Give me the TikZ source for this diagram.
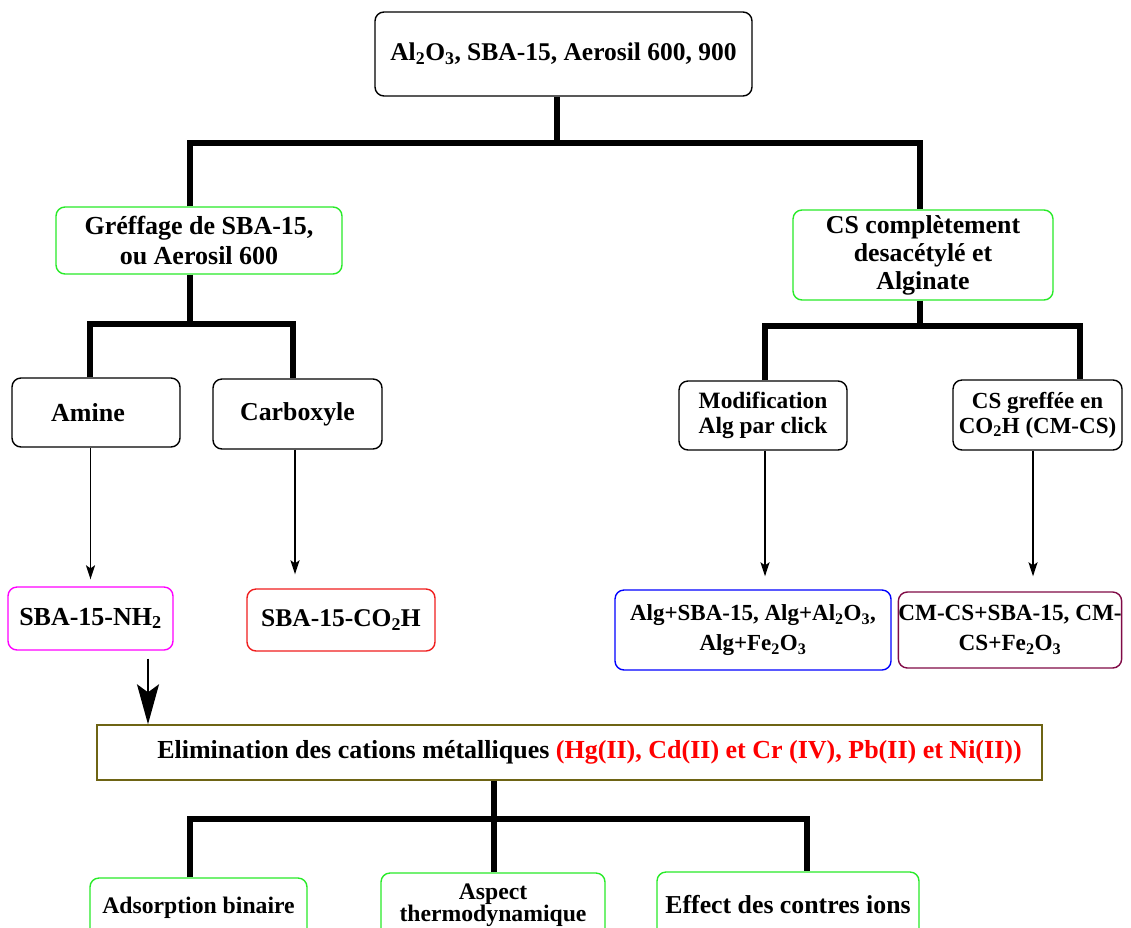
\documentclass[tikz,border=0pt]{standalone}
\usepackage{fontspec}
\setmainfont{Liberation Serif}
\usetikzlibrary{arrows.meta}
\definecolor{boxgreen}{RGB}{40,235,40}
\definecolor{boxmag}{RGB}{255,0,255}
\definecolor{boxred}{RGB}{240,30,30}
\definecolor{boxblue}{RGB}{0,0,255}
\definecolor{boxpurple}{RGB}{128,10,70}
\definecolor{boxolive}{RGB}{110,100,20}
\definecolor{txtred}{RGB}{255,0,0}
\begin{document}
\begin{tikzpicture}[x=1pt,y=-1pt,
  box/.style={draw=black,line width=1.4pt,rounded corners=9pt,align=center,inner sep=0pt,font=\bfseries},
  bus/.style={line width=6pt,line join=miter},
  thinarrow/.style={line width=1.6pt,-{Stealth[length=14pt,width=9pt,inset=3pt]}},
  bigarrow/.style={line width=2pt,-{Stealth[length=40pt,width=22pt,inset=8pt]}}]
\clip (0,0) rectangle (1131,927);
\fill[white] (0,0) rectangle (1131,927);
% level 0
\node[box,minimum width=377pt,minimum height=84pt,font=\bfseries\fontsize{25.5}{28}\selectfont] (top) at (563.5,54)
  {Al\textsubscript{2}O\textsubscript{3}, SBA-15, Aerosil 600, 900};
% level 1
\node[box,draw=boxgreen,minimum width=286pt,minimum height=67pt,font=\bfseries\fontsize{26}{30}\selectfont] (greff) at (199,240.5)
  {Gréffage de SBA-15,\\ ou Aerosil 600};
\node[box,draw=boxgreen,minimum width=260pt,minimum height=90pt,font=\bfseries\fontsize{25.8}{28}\selectfont] (csc) at (923,255)
  {CS complètement\\ desacétylé et\\ Alginate};
% level 2
\node[box,minimum width=168pt,minimum height=69pt,font=\bfseries\fontsize{26}{28}\selectfont] (amine) at (96,412.5)
  {\hspace*{-16pt}Amine};
\node[box,minimum width=169pt,minimum height=70pt,font=\bfseries\fontsize{25.8}{28}\selectfont] (carb) at (297.5,414)
  {Carboxyle};
\node[box,minimum width=168pt,minimum height=69pt,font=\bfseries\fontsize{23.4}{25}\selectfont] (modif) at (763,415.5)
  {Modification\\ Alg par click};
\node[box,minimum width=169pt,minimum height=70pt,font=\bfseries\fontsize{23}{25}\selectfont] (csg) at (1037.5,415)
  {CS greffée en\\ CO\textsubscript{2}H (CM-CS)};
% level 3
\node[box,draw=boxmag,minimum width=165pt,minimum height=63pt,font=\bfseries\fontsize{26}{28}\selectfont] (nh) at (90.5,618.5)
  {SBA-15-NH\textsubscript{2}};
\node[box,draw=boxred,minimum width=188pt,minimum height=62pt,font=\bfseries\fontsize{25.5}{28}\selectfont] (coh) at (341,620)
  {SBA-15-CO\textsubscript{2}H};
\node[box,draw=boxblue,minimum width=276pt,minimum height=80pt,font=\bfseries\fontsize{23}{30}\selectfont] (alg) at (753,630)
  {Alg+SBA-15, Alg+Al\textsubscript{2}O\textsubscript{3},\\ Alg+Fe\textsubscript{2}O\textsubscript{3}};
\node[box,draw=boxpurple,minimum width=220pt,minimum height=76pt,font=\bfseries\fontsize{23.2}{30}\selectfont] (cm) at (1010,630)
  {CM-CS+SBA-15, CM-\\ CS+Fe\textsubscript{2}O\textsubscript{3}};
% level 4
\node[box,draw=boxolive,rounded corners=0pt,minimum width=945pt,minimum height=55pt,font=\bfseries\fontsize{26}{28}\selectfont] (elim) at (569.5,752.5)
  {\hspace*{40pt}Elimination des cations métalliques {\color{txtred}(Hg(II), Cd(II) et Cr (IV), Pb(II) et Ni(II))}};
% level 5
\node[box,draw=boxgreen,minimum width=217pt,minimum height=64pt,font=\bfseries\fontsize{23.7}{26}\selectfont] (ads) at (198.5,910)
  {\raisebox{10pt}{Adsorption binaire}};
\node[box,draw=boxgreen,minimum width=224pt,minimum height=64pt,font=\bfseries\fontsize{23.7}{25}\selectfont] (asp) at (493,905)
  {\raisebox{7pt}{\begin{tabular}{@{}c@{}}Aspect\\[-3pt] thermodynamique\end{tabular}}};
\node[box,draw=boxgreen,minimum width=262pt,minimum height=66pt,font=\bfseries\fontsize{25.8}{28}\selectfont] (eff) at (788,905)
  {\raisebox{2pt}{Effect des contres ions}};
% buses
\draw[bus] ([xshift=-6.5pt]top.south) -- ++(0,48);
\draw[bus] ([xshift=-9pt]greff.north) -- ++(0,-63) -| ([xshift=-3pt]csc.north);
\draw[bus] ([xshift=-9pt]greff.south) -- ++(0,51);
\draw[bus] ([xshift=-6pt]amine.north) -- ++(0,-53) -| ([xshift=-4.5pt]carb.north);
\draw[bus] ([xshift=-3pt]csc.south) -- ++(0,27);
\draw[bus] ([xshift=2pt]modif.north) -- ++(0,-54) -| ([xshift=42.5pt]csg.north);
\draw[bus] (elim.south -| 494,0) -- ++(0,40);
\draw[bus] ([xshift=-8.5pt]ads.north) -- ++(0,-58) -| ([xshift=19pt]eff.north);
\draw[bus] (asp.north -| 494,0) -- ++(0,-53);
% arrows
\draw[thinarrow] (nh.north |- amine.south) -- ([yshift=7pt]nh.north);
\draw[thinarrow] ([xshift=-2.5pt]carb.south) -- ([xshift=-2.5pt,yshift=14pt]carb.south |- coh.north);
\draw[thinarrow] ([xshift=2pt]modif.south) -- ([xshift=2pt,yshift=13pt]modif.south |- alg.north);
\draw[thinarrow] ([xshift=-4.5pt]csg.south) -- ([xshift=-4.5pt,yshift=15pt]csg.south |- cm.north);
\draw[bigarrow] ([xshift=57.5pt,yshift=-8pt]nh.south) -- ([xshift=57.5pt]nh.south |- elim.north);
\end{tikzpicture}
\end{document}
